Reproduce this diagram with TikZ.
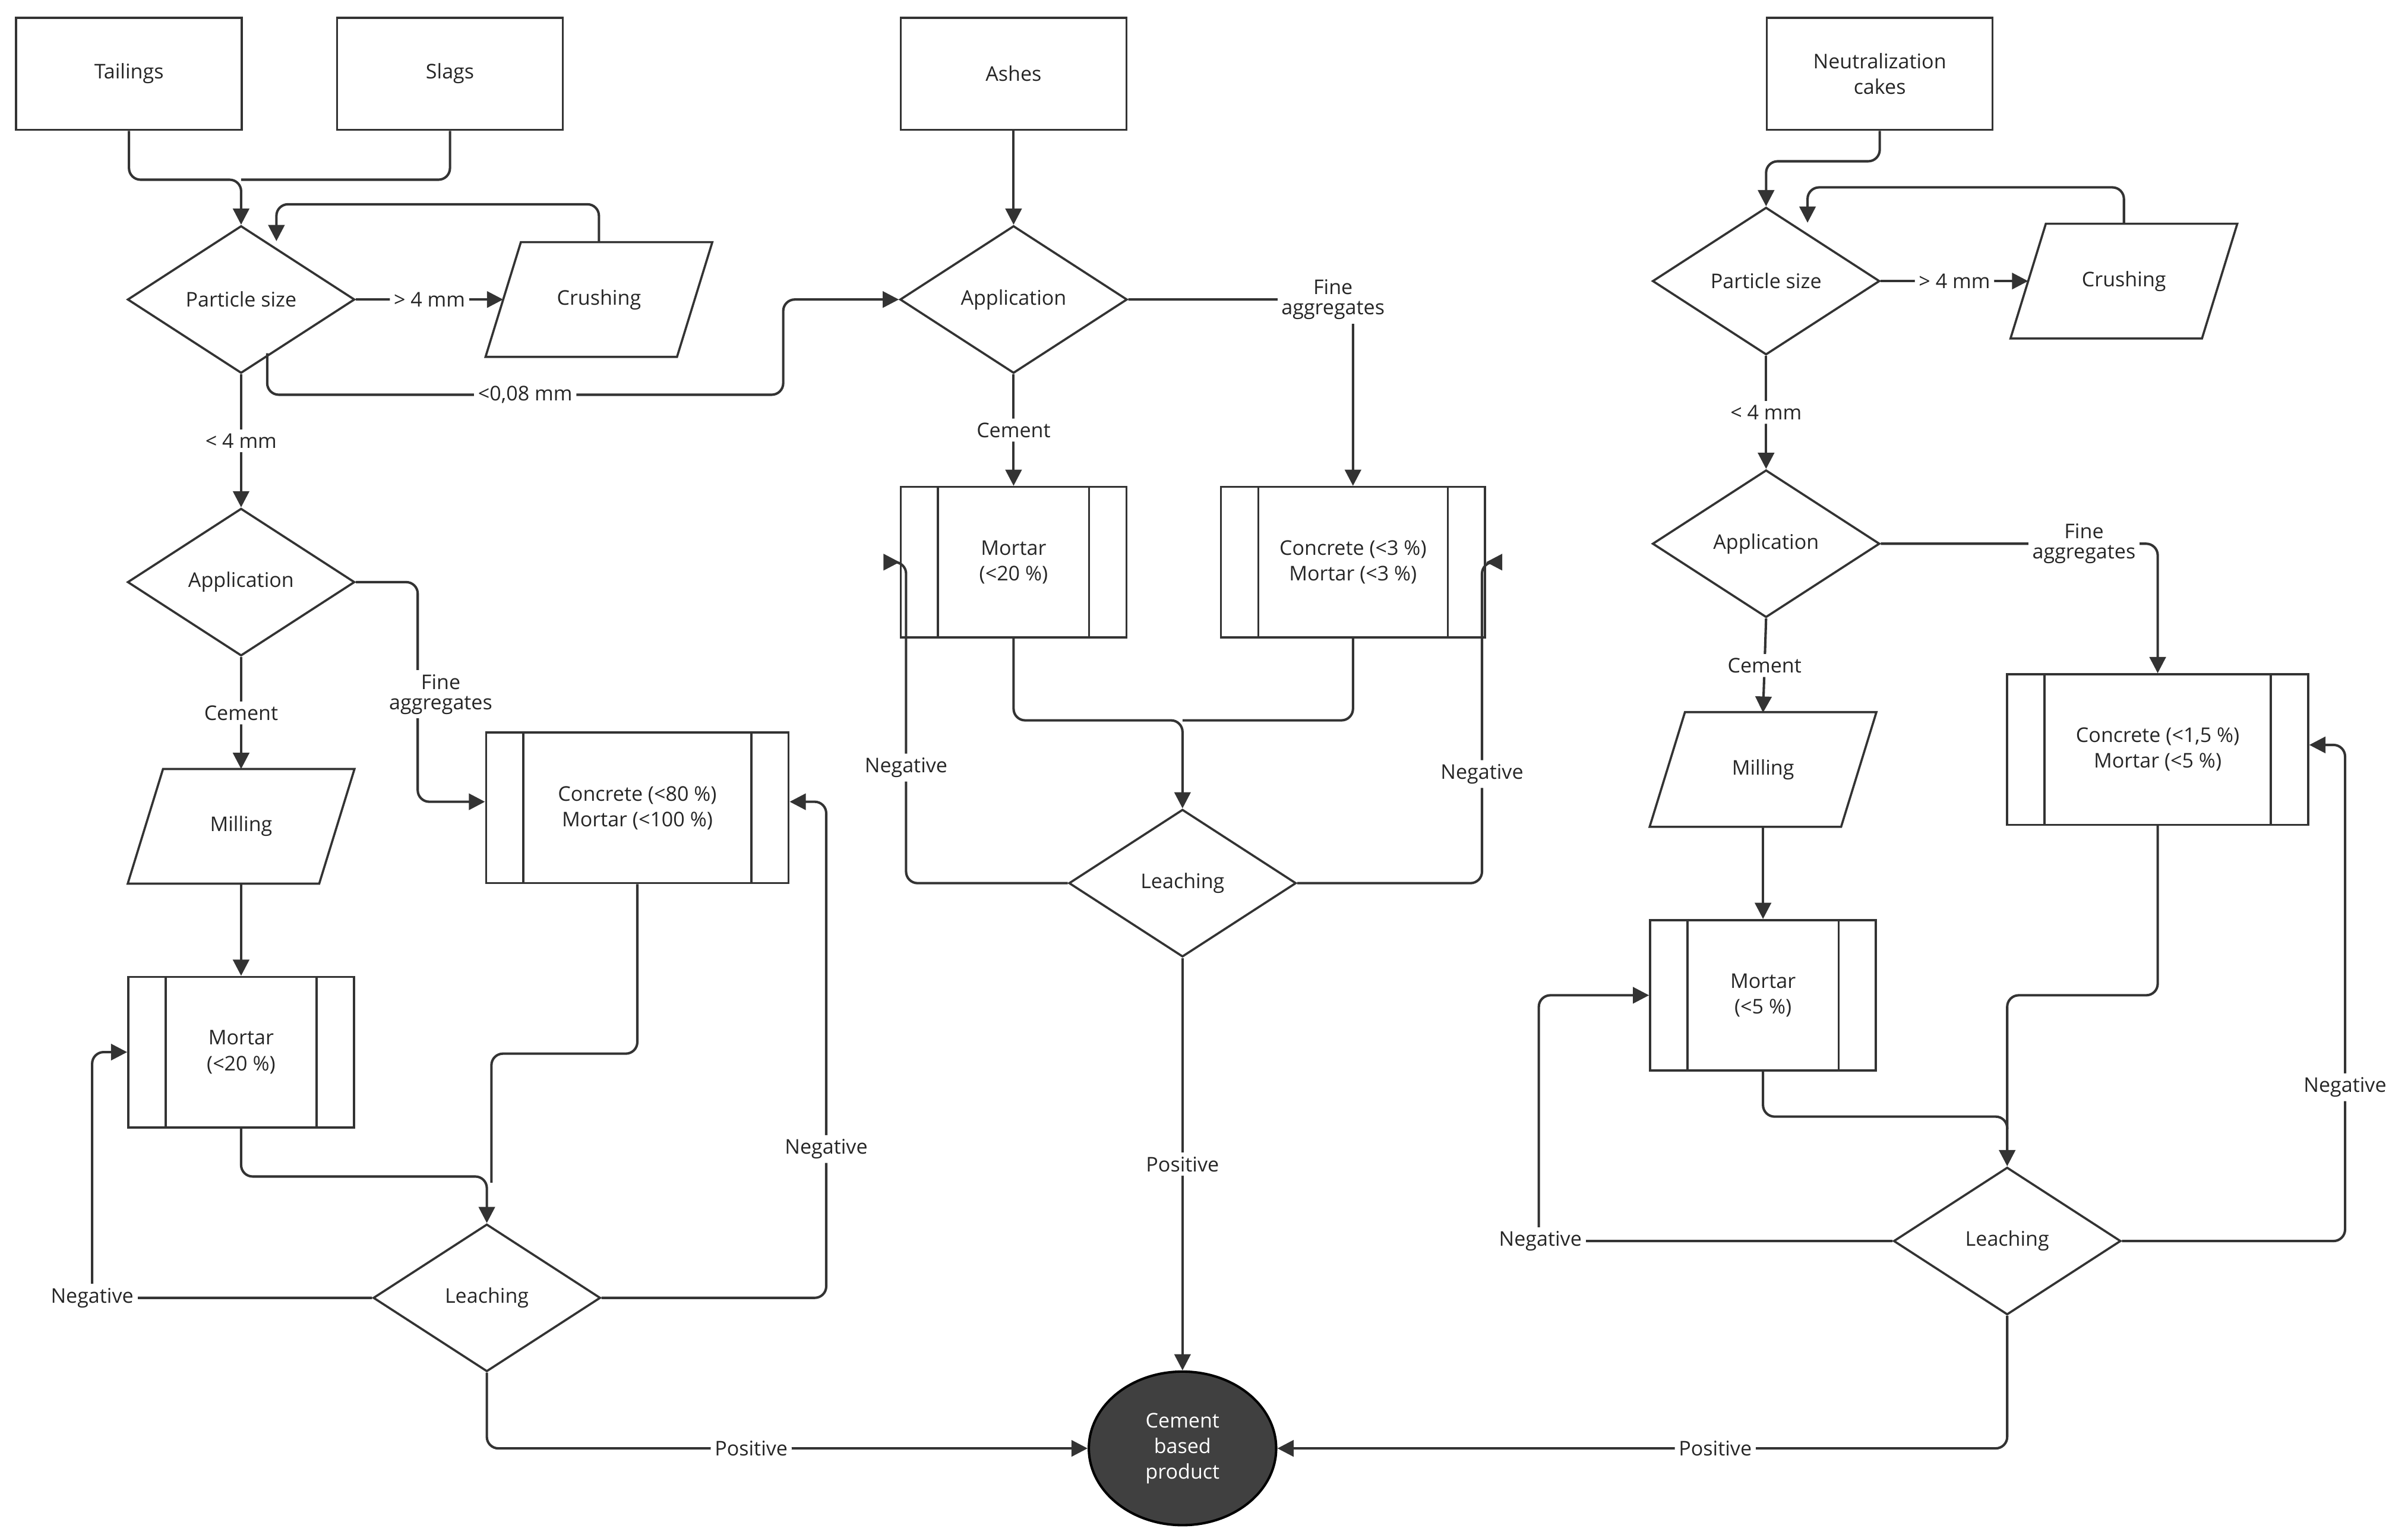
\documentclass[tikz,border=0pt]{standalone}
\usepackage{fontspec}
\setmainfont{Open Sans}
\usetikzlibrary{shapes.geometric,arrows.meta}
\newcommand\mylines[1]{\draw[line width=0.8pt,black!80] ([xshift=0.5cm]#1.north west) -- ([xshift=0.5cm]#1.south west);
 \draw[line width=0.8pt,black!80] ([xshift=-0.5cm]#1.north east) -- ([xshift=-0.5cm]#1.south east);}
\newcommand\para[3]{\node[minimum width=2.48cm, minimum height=1.48cm, inner sep=0pt] (#1) at (#2) {#3};
 \draw[line width=0.8pt,black!80] ([xshift=-0.23cm]#1.south west) -- ([xshift=0.23cm]#1.north west) -- ([xshift=0.23cm]#1.north east) -- ([xshift=-0.23cm]#1.south east) -- cycle;}
\begin{document}
\begin{tikzpicture}[x=0.02cm,y=-0.02cm,
 every node/.style={font=\fontsize{7.5}{9.5}\selectfont, text=black!85},
 box/.style={draw=black!80, line width=0.8pt, minimum width=2.94cm, minimum height=1.46cm, align=center, inner sep=1pt},
 dia/.style={draw=black!80, diamond, minimum width=2.96cm, minimum height=1.92cm, inner sep=0pt, line width=0.8pt},
 proc/.style={box, minimum height=1.96cm},
 lbl/.style={fill=white, inner sep=1.5pt, align=center},
 con/.style={draw=black!80, line width=0.9pt, rounded corners=0.15cm, -{Triangle[length=6pt,width=6pt]}},
 ln/.style={draw=black!80, line width=0.9pt, rounded corners=0.15cm},
 ]
\useasboundingbox (0,0) rectangle (1568,1001);
% sources
\node[box] (tail) at (84,48) {Tailings};
\node[box] (slag) at (293,48) {Slags};
\node[box] (ash) at (660,48) {Ashes};
\node[box] (neut) at (1224,48) {Neutralization\\cakes};
% left branch
\node[dia] (ps1) at (157,195) {Particle size};
\para{cr1}{390,195}{Crushing}
\node[dia] (ap1) at (157,379) {Application};
\para{mi1}{157,538}{Milling}
\node[proc, minimum width=3.94cm] (co1) at (415,526) {Concrete (<80 \%)\\Mortar (<100 \%)}; \mylines{co1}
\node[proc] (mo1) at (157,685) {Mortar\\(<20 \%)}; \mylines{mo1}
\node[dia] (le1) at (317,845) {Leaching};
% middle
\node[dia] (ap2) at (660,195) {Application};
\node[proc] (mo2) at (660,366) {Mortar\\(<20 \%)}; \mylines{mo2}
\node[proc, minimum width=3.44cm] (co2) at (881,366) {Concrete (<3 \%)\\Mortar (<3 \%)}; \mylines{co2}
\node[dia] (le2) at (770,575) {Leaching};
\node[ellipse, draw=black, fill=black!75, line width=0.9pt, minimum width=2.44cm, minimum height=2cm, align=center, inner sep=0pt, text=white] (prod) at (770,943) {Cement\\based\\product};
% right
\node[dia] (ps3) at (1150,183) {Particle size};
\para{cr3}{1383,183}{Crushing}
\node[dia] (ap3) at (1150,354) {Application};
\para{mi3}{1148,501}{Milling}
\node[proc, minimum width=3.92cm] (co3) at (1405,488) {Concrete (<1,5 \%)\\Mortar (<5 \%)}; \mylines{co3}
\node[proc] (mo3) at (1148,648) {Mortar\\(<5 \%)}; \mylines{mo3}
\node[dia] (le3) at (1307,808) {Leaching};

% connectors left
\draw[con] (tail.south) -- (84,117) -- (157,117) -- (ps1.north);
\draw[ln] (slag.south) -- (293,117) -- (157,117);
\draw[con] (cr1.north) -- (390,133) -- (180,133) -- (180,157);
\draw[con] (ps1.east) -- node[lbl]{> 4 mm} (cr1.west);
\draw[con] (174,230) -- (174,257) -- node[lbl]{<0,08 mm} (510,257) -- (510,195) -- (ap2.west);
\draw[con] (ps1.south) -- node[lbl,pos=0.5]{< 4 mm} (ap1.north);
\draw[con] (ap1.east) -- (272,379) -- (272,522) -- (co1.west |- 0,522);
\node[lbl] at (287,452) {Fine\\[-2pt]aggregates};
\draw[con] (ap1.south) -- node[lbl]{Cement} (mi1.north);
\draw[con] (mi1.south) -- (mo1.north);
\draw[con] (mo1.south) -- (157,766) -- (317,766) -- (le1.north);
\draw[ln] (co1.south) -- (415,686) -- (320,686) -- (320,770);
\draw[con] (le1.west) -- (60,845) -- (60,685) -- (mo1.west);
\node[lbl] at (60,845) {Negative};
\draw[con] (le1.east) -- (538,845) -- node[lbl,pos=0.3]{Negative} (538,522) -- (co1.east |- 0,522);
\draw[con] (le1.south) -- (317,943) -- node[lbl,pos=0.44]{Positive} (prod.west);
% middle
\draw[con] (ash.south) -- (ap2.north);
\draw[con] (ap2.south) -- node[lbl]{Cement} (mo2.north);
\draw[con] (ap2.east) -- (881,195) -- (co2.north);
\node[lbl] at (868,195) {Fine\\[-2pt]aggregates};
\draw[con] (mo2.south) -- (660,469) -- (770,469) -- (le2.north);
\draw[ln] (co2.south) -- (881,469) -- (770,469);
\draw[con] (le2.west) -- (590,575) -- node[lbl,pos=0.36]{Negative} (590,366) -- (mo2.west);
\draw[con] (le2.east) -- (965,575) -- node[lbl,pos=0.34]{Negative} (965,366) -- (co2.east);
\draw[con] (le2.south) -- node[lbl,pos=0.5]{Positive} (prod.north);
% right
\draw[con] (neut.south) -- (1224,105) -- (1150,105) -- (ps3.north);
\draw[con] (cr3.north) -- (1383,122) -- (1177,122) -- (1177,145);
\draw[con] (ps3.east) -- node[lbl]{> 4 mm} (cr3.west);
\draw[con] (ps3.south) -- node[lbl]{< 4 mm} (ap3.north);
\draw[con] (ap3.east) -- (1405,354) -- (co3.north);
\node[lbl] at (1357,354) {Fine\\[-2pt]aggregates};
\draw[con] (ap3.south) -- node[lbl]{Cement} (1148,464);
\draw[con] (mi3.south) -- (mo3.north);
\draw[con] (mo3.south) -- (1148,727) -- (1307,727) -- (le3.north);
\draw[ln] (co3.south) -- (1405,648) -- (1307,648) -- (1307,735);
\draw[con] (le3.west) -- (1002,808) -- (1002,648) -- (mo3.west);
\node[lbl] at (1003,808) {Negative};
\draw[con] (le3.east) -- (1527,808) -- node[lbl,pos=0.31]{Negative} (1527,485) -- (co3.east |- 0,485);
\draw[con] (le3.south) -- (1307,943) -- node[lbl,pos=0.4]{Positive} (prod.east);
\end{tikzpicture}
\end{document}
